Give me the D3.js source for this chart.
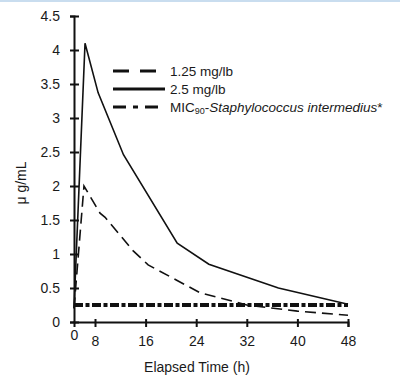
<!DOCTYPE html>
<html>
<head>
<meta charset="utf-8">
<script src="https://cdn.jsdelivr.net/npm/d3@7"></script>
<style>
  body { margin: 0; background: #fff; }
  #chart { width: 400px; height: 384px; border-top: 2px solid #c9ddef; box-sizing: border-box; }
  text { font-family: "Liberation Sans", Arial, sans-serif; fill: #1a1a1a; }
</style>
</head>
<body>
<div id="chart"></div>
<script>
// hours after dosing
const hoursLow = [0, 3.8, 8.8, 9.6, 14, 16.4, 24.6, 32, 40, 48];
const concLow = [0.2, 2.0, 1.6, 1.54, 1.05, 0.84, 0.43, 0.25, 0.16, 0.1];
const hoursHigh = [0, 4.2, 8.5, 12.5, 21, 26, 37, 48];
const concHigh = [0.2, 4.1, 3.37, 2.46, 1.16, 0.85, 0.5, 0.26];
const micHours = [0, 48];
const micValue = [0.25, 0.25];
const xTicks = [0, 8, 16, 24, 32, 40, 48];
const yTicks = [0, 0.5, 1, 1.5, 2, 2.5, 3, 3.5, 4, 4.5];
const legendLabels = ["1.25 mg/lb", "2.5 mg/lb", "MIC"];

const svg = d3.select("#chart")
    .append("svg")
    .attr("width", 400)
    .attr("height", 382)
    .attr("transform", "translate(0,-2)")

// first 8 h are squeezed on the original axis
const x = d3.scaleLinear()
    .domain([0, 8, 48])
    .range([74, 95, 348])

const y = d3.scaleLinear()
    .domain([0, 4.5])
    .range([322, 16])

const line = d3.line()
    .x(d => x(d[0]))
    .y(d => y(d[1]))

// y axis
const yAxis = svg.append("g")
    .attr("transform", `translate(${x(0)},0)`)
    .call(d3.axisLeft(y).tickValues(yTicks).tickFormat(d => String(d)).tickSize(4).tickPadding(8))
yAxis.select(".domain").attr("stroke", "#111").attr("stroke-width", 2)
yAxis.selectAll(".tick line").attr("x1", -4).attr("x2", 5).attr("stroke-width", 2).attr("stroke", "#111")
yAxis.selectAll(".tick text").attr("font-size", 14).attr("dx", -2).style("font-family", "Liberation Sans, Arial, sans-serif")

// x axis
const xAxis = svg.append("g")
    .attr("transform", `translate(0,${y(0)})`)
    .call(d3.axisBottom(x).tickValues(xTicks).tickFormat(d => String(d)).tickSize(5).tickPadding(9))
xAxis.select(".domain").attr("stroke", "#111").attr("stroke-width", 2)
xAxis.selectAll(".tick line").attr("y1", -3).attr("y2", 5).attr("stroke-width", 2).attr("stroke", "#111")
    .filter(d => d === 0).remove()
xAxis.selectAll(".tick text").attr("font-size", 14).style("font-family", "Liberation Sans, Arial, sans-serif")
    .filter(d => d === 0).attr("dy", "0.25em")

svg.append("text")
    .attr("x", 197)
    .attr("y", 372)
    .attr("text-anchor", "middle")
    .attr("font-size", 14)
    .text("Elapsed Time (h)")

svg.append("text")
    .attr("transform", "translate(26,183) rotate(-90)")
    .attr("text-anchor", "middle")
    .attr("font-size", 14)
    .text("μ g/mL")

// curves
svg.append("path")
    .datum(micHours.map((h, i) => [h, micValue[i]]))
    .attr("d", line)
    .attr("fill", "none")
    .attr("stroke", "#111")
    .attr("stroke-width", 4)
    .attr("stroke-dasharray", "9,2.5,4,2.5")

svg.append("path")
    .datum(hoursLow.map((h, i) => [h, concLow[i]]))
    .attr("d", line)
    .attr("fill", "none")
    .attr("stroke", "#111")
    .attr("stroke-width", 1.6)
    .attr("stroke-dasharray", "11,6")

svg.append("path")
    .datum(hoursHigh.map((h, i) => [h, concHigh[i]]))
    .attr("d", line)
    .attr("fill", "none")
    .attr("stroke", "#111")
    .attr("stroke-width", 1.6)

// legend
const legendDash = ["16,11", null, "13,7,5,7"]
const legend = svg.append("g")
legendLabels.forEach((lab, i) => {
    const ly = 71 + i * 18
    legend.append("line")
        .attr("x1", 113).attr("x2", 165)
        .attr("y1", ly).attr("y2", ly)
        .attr("stroke", "#111")
        .attr("stroke-width", 3)
        .attr("stroke-dasharray", legendDash[i])
    const t = legend.append("text")
        .attr("x", 170)
        .attr("y", ly + 5)
        .attr("font-size", 13.5)
    if (i < 2) {
        t.text(lab)
    } else {
        t.append("tspan").text(lab)
        t.append("tspan").attr("font-size", 9).attr("dy", 2).text("90")
        t.append("tspan").attr("dy", -2).text("-")
        t.append("tspan").attr("font-style", "italic").text("Staphylococcus intermedius")
        t.append("tspan").text("*")
    }
})
</script>
</body>
</html>
